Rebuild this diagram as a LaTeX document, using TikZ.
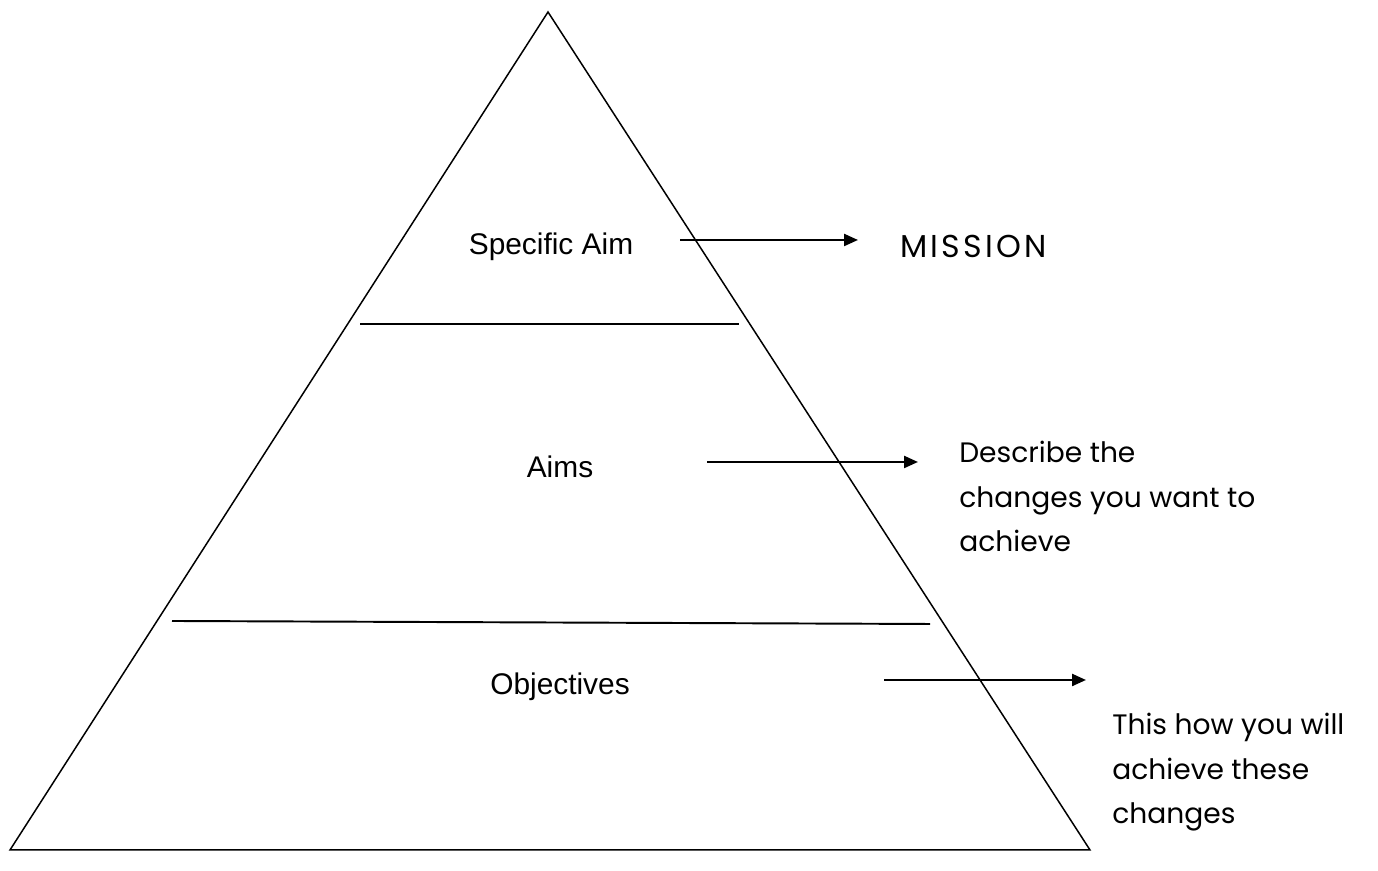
\documentclass[tikz,border=0pt]{standalone}
\usepackage{fontspec}
\setmainfont{Liberation Sans}
\newfontfamily\handfont{Poppins}
\usetikzlibrary{arrows.meta}

\begin{document}
\begin{tikzpicture}[>={Triangle[length=2.8mm,width=2.4mm]}, font=\fontsize{17}{20}\selectfont]
\tikzstyle{level} = [inner sep=0pt, anchor=base]
\tikzstyle{note} = [inner sep=0pt, align=left, font=\handfont\fontsize{16}{25.3}\selectfont]
\tikzstyle{edge} = [line width=0.85pt, line join=miter]
\tikzstyle{divider} = [line width=1.1pt]
\tikzstyle{link} = [->, line width=1.3pt]

\useasboundingbox (0,0) rectangle (27.56,17.42);

% pyramid outline
\coordinate (apex) at (10.96,17.18);
\coordinate (left) at (0.2,0.42);
\coordinate (right) at (21.8,0.42);
\draw[edge] (apex) -- (right) -- (left) -- cycle;

% the two dividers
\coordinate (d1l) at (7.2,10.94);
\coordinate (d1r) at (14.78,10.94);
\coordinate (d2l) at (3.44,5.0);
\coordinate (d2r) at (18.6,4.94);
\draw[divider] (d1l) -- (d1r);
\draw[divider] (d2l) -- (d2r);

% levels
\node[level] (spec) at (11.02,12.32) {Specific Aim};
\node[level] (aims) at (11.2,7.86) {Aims};
\node[level] (obj) at (11.2,3.52) {Objectives};

% what each level means
\node[note, anchor=base west] (mission) at (18.0,12.26) {\fontsize{18}{22}\selectfont\addfontfeature{LetterSpace=10}MISSION};
\node[note, anchor=north west] (describe) at (19.18,8.6) {Describe the\\changes you want to\\achieve};
\node[note, anchor=north west] (how) at (22.24,3.16) {This how you will\\achieve these\\changes};

% arrows
\coordinate (a1s) at (13.6,12.62);
\coordinate (a1e) at (17.16,12.62);
\coordinate (a2s) at (14.14,8.18);
\coordinate (a2e) at (18.36,8.18);
\coordinate (a3s) at (17.68,3.82);
\coordinate (a3e) at (21.72,3.82);
\draw[link] (a1s) -- (a1e);
\draw[link] (a2s) -- (a2e);
\draw[link] (a3s) -- (a3e);
\end{tikzpicture}
\end{document}
